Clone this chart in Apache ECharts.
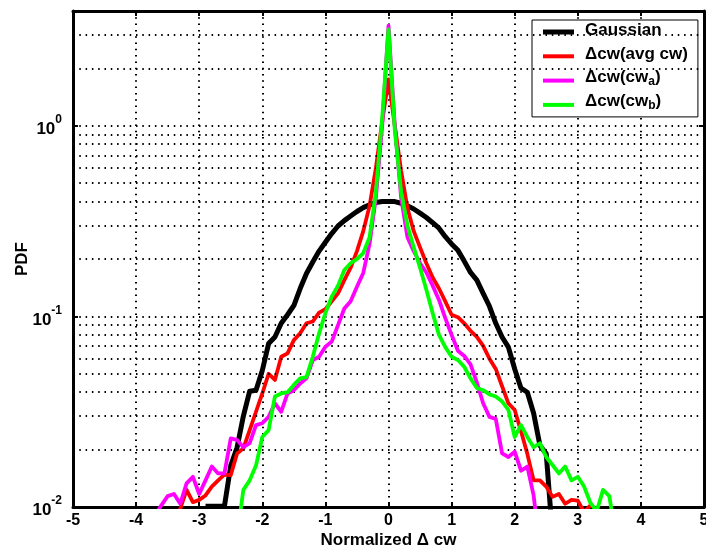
<!DOCTYPE html>
<html>
<head>
<meta charset="utf-8">
<script src="https://cdn.jsdelivr.net/npm/echarts@6/dist/echarts.min.js"></script>
<style>
  html, body { margin: 0; padding: 0; background: #fff; }
  #chart { width: 706px; height: 551px; }
</style>
</head>
<body>
<div id="chart"></div>
<script>
// Histogram bin centres (normalized Δcw)
const bins = [
  -3.7, -3.6, -3.5, -3.4, -3.3, -3.2, -3.1, -3.0, -2.9, -2.8,
  -2.7, -2.6, -2.5, -2.4, -2.3, -2.2, -2.1, -2.0, -1.9, -1.8,
  -1.7, -1.6, -1.5, -1.4, -1.3, -1.2, -1.1, -1.0, -0.9, -0.8,
  -0.7, -0.6, -0.5, -0.4, -0.3, -0.2, -0.1, 0.0, 0.1, 0.2,
  0.3, 0.4, 0.5, 0.6, 0.7, 0.8, 0.9, 1.0, 1.1, 1.2,
  1.3, 1.4, 1.5, 1.6, 1.7, 1.8, 1.9, 2.0, 2.1, 2.2,
  2.3, 2.4, 2.5, 2.6, 2.7, 2.8, 2.9, 3.0, 3.1, 3.2,
  3.3, 3.4, 3.5, 3.6
];

// PDF of a Gaussian reference sample
const gaussianPdf = [
  null, null, null, null, null, null, null, null, 0.0101, 0.0101,
  0.0101, 0.0101, 0.0165, 0.0205, 0.030, 0.0405, 0.041, 0.052, 0.072, 0.078,
  0.092, 0.102, 0.114, 0.140, 0.168, 0.193, 0.220, 0.245, 0.272, 0.298,
  0.318, 0.336, 0.355, 0.372, 0.385, 0.396, 0.401, 0.401, 0.400, 0.392,
  0.380, 0.366, 0.348, 0.330, 0.310, 0.290, 0.262, 0.240, 0.222, 0.195,
  0.170, 0.155, 0.132, 0.113, 0.092, 0.078, 0.069, 0.053, 0.042, 0.040,
  0.031, 0.021, 0.019, 0.007, null, null, null, null, null, null,
  null, null, null, null
];

// PDF of Δcw (avg cw)
const avgCwPdf = [
  null, null, null, 0.007, 0.0098, 0.0123, 0.0106, 0.0109, 0.0115, 0.0128,
  0.0138, 0.0148, 0.0147, 0.0191, 0.0203, 0.0253, 0.0316, 0.0394, 0.050, 0.0464,
  0.0614, 0.064, 0.0751, 0.0815, 0.092, 0.094, 0.1047, 0.109, 0.120, 0.132,
  0.155, 0.18, 0.22, 0.28, 0.38, 0.60, 1.05, 1.75, 1.0, 0.58,
  0.37, 0.28, 0.23, 0.19, 0.16, 0.14, 0.12, 0.102, 0.099, 0.092,
  0.084, 0.078, 0.070, 0.060, 0.053, 0.043, 0.035, 0.0323, 0.025, 0.019,
  0.0138, 0.0138, 0.0128, 0.0113, 0.0117, 0.0104, 0.0109, 0.0108, 0.0094, 0.0102,
  null, null, null, null
];

// PDF of Δcw (cw_a)
const cwAPdf = [
  0.009, 0.0102, 0.0114, 0.0117, 0.0104, 0.0133, 0.0144, 0.0117, 0.0138, 0.0163,
  0.015, 0.015, 0.0229, 0.0225, 0.0206, 0.0216, 0.0269, 0.0275, 0.0297, 0.035,
  0.0316, 0.0394, 0.041, 0.0445, 0.0473, 0.059, 0.0614, 0.0693, 0.0737, 0.090,
  0.110, 0.120, 0.143, 0.169, 0.24, 0.42, 1.0, 3.35, 1.0, 0.42,
  0.26, 0.22, 0.19, 0.17, 0.145, 0.122, 0.098, 0.080, 0.066, 0.062,
  0.056, 0.045, 0.035, 0.0297, 0.029, 0.0191, 0.0183, 0.0195, 0.0155, 0.0163,
  0.0115, 0.006, null, null, null, null, null, null, null, null,
  null, null, null, null
];

// PDF of Δcw (cw_b)
const cwBPdf = [
  null, null, null, null, null, null, null, null, null, null,
  null, null, null, 0.007, 0.0123, 0.0138, 0.0165, 0.0233, 0.0253, 0.038,
  0.0394, 0.040, 0.0437, 0.0473, 0.048, 0.0614, 0.0815, 0.104, 0.127, 0.145,
  0.175, 0.19, 0.20, 0.215, 0.26, 0.45, 1.1, 3.2, 0.95, 0.45,
  0.30, 0.23, 0.18, 0.138, 0.104, 0.080, 0.069, 0.0614, 0.059, 0.0544,
  0.0473, 0.0421, 0.041, 0.039, 0.038, 0.0358, 0.0323, 0.0233, 0.0269, 0.0233,
  0.0206, 0.0216, 0.0183, 0.0166, 0.015, 0.0163, 0.0138, 0.0144, 0.0128, 0.0105,
  0.0095, 0.0123, 0.0114, 0.007
];

const seriesNames = ['Gaussian', 'Δcw(avg cw)', 'Δcw(cw_a)', 'Δcw(cw_b)'];
const seriesColors = ['#000000', '#ff0000', '#ff00ff', '#00ff00'];
const seriesWidths = [5, 3.8, 3.8, 3.8];
const seriesValues = [gaussianPdf, avgCwPdf, cwAPdf, cwBPdf];

// Minor log grid levels between the decades
const minorGridLevels = [0.02, 0.03, 0.04, 0.05, 0.06, 0.07, 0.08, 0.09,
                         0.2, 0.3, 0.4, 0.5, 0.6, 0.7, 0.8, 0.9, 2, 3];

const FONT = 'Liberation Sans, Arial, sans-serif';
const dotted = { color: '#000', width: 2, type: [1.5, 4.8] };

// legend swatches: a thin bar inside a full-height 31x24 box (the bare moveTo
// points stretch the box so every legend row keeps the same height)
const legendIcons = [
  'path://M0,0M0,9.5H31V14.5H0ZM31,24',
  'path://M0,0M0,10H31V14H0ZM31,24'
];

// legend labels: "_x" becomes a lowered subscript
function legendText(name) {
  const m = name.match(/^(.*)_(\w)\)$/);
  if (m) return '{t|' + m[1] + '}{s|' + m[2] + '}{t|)}';
  return '{c|' + name + '}';
}

function decadeLabel(v) {
  const e = Math.round(Math.log10(v));
  if (Math.abs(v - Math.pow(10, e)) > 1e-9 * v) return '';
  return '{b|10}{e|' + e + '}';
}

const frameAxis = {
  axisLine: { show: true, onZero: false, lineStyle: { color: '#000', width: 3 } },
  axisTick: { show: true, inside: true, length: 5, lineStyle: { color: '#000', width: 2 } }
};

const chart = echarts.init(document.getElementById('chart'), null, { renderer: 'canvas' });

const series = seriesNames.map((name, k) => ({
  name: name,
  type: 'line',
  data: bins.map((x, i) => [x, seriesValues[k][i]]),
  symbol: 'none',
  connectNulls: false,
  clip: true,
  z: 3 + k,
  lineStyle: { color: seriesColors[k], width: seriesWidths[k], join: 'round' },
  itemStyle: { color: seriesColors[k] },
  emphasis: { disabled: true }
}));

// dotted minor grid drawn beneath the curves
series.unshift({
  name: 'minor-grid',
  type: 'line',
  data: [],
  z: 1,
  silent: true,
  markLine: {
    silent: true,
    symbol: ['none', 'none'],
    label: { show: false },
    lineStyle: dotted,
    emphasis: { disabled: true },
    animation: false,
    data: minorGridLevels.map(v => ({ yAxis: v }))
  }
});

const legendFont = { fontFamily: FONT, fontWeight: 'bold', color: '#000' };

const option = {
  animation: false,
  backgroundColor: '#fff',
  textStyle: { fontFamily: FONT },
  grid: { left: 73, right: 2, top: 11, bottom: 44, containLabel: false, outerBoundsMode: 'none' },
  legend: {
    left: 532,
    top: 20,
    orient: 'vertical',
    itemWidth: 31,
    itemHeight: 24,
    itemGap: 0.3,
    padding: [0, 10, 0, 11],
    backgroundColor: '#fff',
    borderColor: '#000',
    borderWidth: 1,
    borderRadius: 0,
    selectedMode: false,
    data: seriesNames.map((n, k) => ({
      name: n,
      icon: k === 0 ? legendIcons[0] : legendIcons[1],
      itemStyle: { color: seriesColors[k] }
    })),
    formatter: legendText,
    textStyle: {
      padding: [0, 0, 0, 6],
      rich: {
        c: Object.assign({ fontSize: 17, lineHeight: 20, padding: [0, 0, 3, 0] }, legendFont),
        t: Object.assign({ fontSize: 17, lineHeight: 24, verticalAlign: 'top' }, legendFont),
        s: Object.assign({ fontSize: 12, lineHeight: 12, verticalAlign: 'top', padding: [7, 0, 0, 0] }, legendFont)
      }
    }
  },
  xAxis: [
    Object.assign({
      type: 'value', min: -5, max: 5, interval: 1, position: 'bottom',
      name: 'Normalized Δ cw', nameLocation: 'middle', nameGap: 25, nameMoveOverlap: false,
      nameTextStyle: { fontFamily: FONT, fontWeight: 'bold', fontSize: 17, color: '#000' },
      axisLabel: { fontFamily: FONT, fontWeight: 'bold', fontSize: 16, color: '#000', margin: 6 },
      splitLine: { show: true, lineStyle: dotted }
    }, frameAxis),
    Object.assign({
      type: 'value', min: -5, max: 5, interval: 1, position: 'top',
      axisLabel: { show: false }, splitLine: { show: false }
    }, frameAxis)
  ],
  yAxis: [
    Object.assign({
      type: 'log', logBase: 10, min: 0.01, max: 4, position: 'left',
      name: 'PDF', nameLocation: 'middle', nameGap: 42, nameRotate: 90, nameMoveOverlap: false,
      nameTextStyle: { fontFamily: FONT, fontWeight: 'bold', fontSize: 17, color: '#000' },
      axisLabel: {
        margin: 11,
        formatter: decadeLabel,
        rich: {
          b: { fontFamily: FONT, fontWeight: 'bold', fontSize: 17, color: '#000', verticalAlign: 'top', padding: [7, 0, 0, 0] },
          e: { fontFamily: FONT, fontWeight: 'bold', fontSize: 12, color: '#000', verticalAlign: 'top', padding: [0, 0, 0, 0] }
        }
      },
      splitLine: { show: true, lineStyle: dotted }
    }, frameAxis),
    Object.assign({
      type: 'log', logBase: 10, min: 0.01, max: 4, position: 'right',
      axisLabel: { show: false }, splitLine: { show: false }
    }, frameAxis)
  ],
  series: series
};

chart.setOption(option);
</script>
</body>
</html>
